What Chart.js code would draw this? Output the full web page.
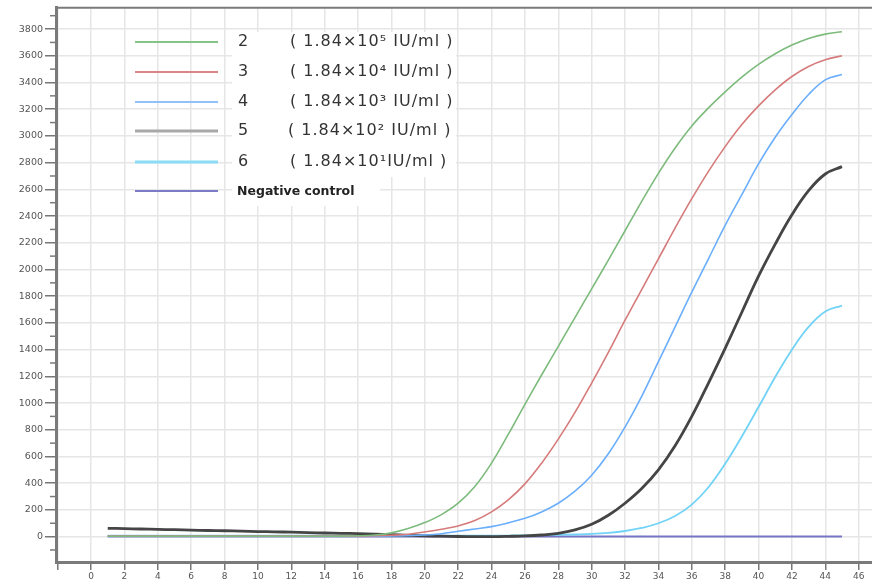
<!DOCTYPE html>
<html>
<head>
<meta charset="utf-8">
<script src="https://cdn.jsdelivr.net/npm/chart.js@4/dist/chart.umd.min.js"></script>
<style>
  html, body { margin: 0; padding: 0; background: #fff; overflow: hidden; }
  canvas { display: block; }
</style>
</head>
<body>
<canvas id="pcrChart" width="872" height="586"></canvas>
<script>
// amplification curves, cycle 1..45
const cycles = [1, 2, 3, 4, 5, 6, 7, 8, 9, 10, 11, 12, 13, 14, 15, 16, 17, 18, 19, 20, 21, 22, 23,
  24, 25, 26, 27, 28, 29, 30, 31, 32, 33, 34, 35, 36, 37, 38, 39, 40, 41, 42, 43, 44, 45];

const sample2 = [3, 3, 3, 3, 3, 3, 3, 3, 3, 3, 3, 3, 3, 3, 4, 6, 12, 28, 60, 105, 165, 250, 375,
  550, 765, 990, 1210, 1425, 1640, 1855, 2070, 2290, 2510, 2720, 2910, 3075, 3210, 3330, 3440, 3535, 3615, 3680, 3730, 3762, 3780];
const sample3 = [5, 5, 5, 5, 5, 5, 5, 5, 5, 5, 5, 5, 5, 5, 5, 5, 6, 10, 18, 35, 55, 80, 120,
  185, 275, 395, 550, 730, 930, 1150, 1380, 1620, 1850, 2080, 2310, 2530, 2735, 2920, 3085, 3225, 3345, 3445, 3520, 3570, 3600];
const sample4 = [5, 5, 5, 5, 5, 5, 5, 5, 5, 5, 5, 5, 5, 5, 5, 5, 5, 6, 8, 12, 22, 40, 57,
  75, 103, 137, 185, 250, 340, 460, 620, 820, 1050, 1310, 1570, 1830, 2080, 2330, 2560, 2790, 2990, 3160, 3310, 3420, 3460];
const sample5 = [62, 60, 57, 54, 52, 49, 46, 44, 41, 38, 36, 33, 30, 27, 25, 22, 18, 14, 10, 6, 3, 1, 0,
  0, 2, 5, 12, 25, 50, 92, 160, 250, 360, 500, 680, 900, 1150, 1410, 1680, 1950, 2190, 2410, 2590, 2715, 2770];
const sample6 = [8, 8, 8, 8, 8, 8, 8, 8, 8, 8, 8, 8, 8, 8, 8, 8, 8, 8, 8, 8, 8, 8, 8,
  8, 8, 9, 11, 13, 16, 20, 28, 42, 65, 100, 155, 240, 370, 545, 750, 970, 1195, 1400, 1570, 1685, 1730];
const negative = [0, 0, 0, 0, 0, 0, 0, 0, 0, 0, 0, 0, 0, 0, 0, 0, 0, 0, 0, 0, 0, 0, 0,
  0, 0, 0, 0, 0, 0, 0, 0, 0, 0, 0, 0, 0, 0, 0, 0, 0, 0, 0, 0, 0, 0];

const sampleIds = ['2', '3', '4', '5', '6', 'Negative control'];
const concentrations = ['( 1.84×10⁵ IU/ml )', '( 1.84×10⁴ IU/ml )', '( 1.84×10³ IU/ml )',
  '( 1.84×10² IU/ml )', '( 1.84×10¹IU/ml )', ''];

const allSeries = [sample2, sample3, sample4, sample5, sample6, negative];
const lineColors = ['#7dbb7d', '#d67b7b', '#6aaefc', '#454545', '#72d3f6', '#7575c4'];
const legendColors = ['#86c386', '#dc8585', '#8fc1fb', '#a8a8a8', '#8cdcf6', '#7b7bc6'];
const lineWidths = [1.6, 1.6, 1.6, 2.8, 1.8, 2];
const legendWidths = [2, 2, 2, 3, 3, 2];

const toPoints = arr => arr.map((v, i) => ({ x: cycles[i], y: v }));

// legend drawn inside the plot, over a white panel like the original
const insideLegend = {
  id: 'insideLegend',
  afterDatasetsDraw(chart) {
    const ctx = chart.ctx;
    ctx.save();
    ctx.fillStyle = '#fff';
    ctx.fillRect(232, 32, 224, 145);
    ctx.fillRect(232, 176, 148, 30);
    const rows = [42, 72, 102, 131, 162, 191];
    sampleIds.forEach((id, i) => {
      const y = rows[i];
      ctx.strokeStyle = legendColors[i];
      ctx.lineWidth = legendWidths[i];
      ctx.beginPath();
      ctx.moveTo(135, y);
      ctx.lineTo(218, y);
      ctx.stroke();
      ctx.fillStyle = '#333';
      ctx.textBaseline = 'middle';
      if (concentrations[i]) {
        ctx.font = '16px "DejaVu Sans"';
        ctx.letterSpacing = '0px';
        ctx.fillText(id, 238, y);
        ctx.letterSpacing = '1px';
        ctx.fillText(concentrations[i], i === 3 ? 288 : 290, y);
      } else {
        ctx.font = 'bold 12.5px "DejaVu Sans"';
        ctx.letterSpacing = '0px';
        ctx.fillStyle = '#222';
        ctx.fillText(id, 237, y + 1);
      }
    });
    ctx.restore();
  }
};

// frame top line and the short minor ticks on the y axis
const frameAndMinor = {
  id: 'frameAndMinor',
  afterDraw(chart) {
    const ctx = chart.ctx;
    const area = chart.chartArea;
    const yScale = chart.scales.y;
    ctx.save();
    ctx.strokeStyle = '#7a7a7a';
    ctx.lineWidth = 2;
    ctx.beginPath();
    ctx.moveTo(area.left, area.top);
    ctx.lineTo(area.right, area.top);
    ctx.stroke();
    ctx.lineWidth = 1.5;
    yScale.ticks.forEach(t => {
      if (t.value % 200 !== 0) {
        const py = yScale.getPixelForValue(t.value);
        ctx.beginPath();
        ctx.moveTo(area.left - 6, py);
        ctx.lineTo(area.left, py);
        ctx.stroke();
      }
    });
    ctx.restore();
  }
};

new Chart(document.getElementById('pcrChart'), {
  type: 'line',
  data: {
    datasets: allSeries.map((s, i) => ({
      label: sampleIds[i],
      data: toPoints(s),
      borderColor: lineColors[i],
      borderWidth: lineWidths[i],
      pointRadius: 0,
      tension: 0.4,
      fill: false
    }))
  },
  options: {
    responsive: false,
    animation: false,
    layout: { padding: { top: 7, right: 0, left: 0, bottom: 0 } },
    plugins: {
      legend: { display: false },
      tooltip: { enabled: false }
    },
    scales: {
      x: {
        type: 'linear',
        min: -2.1,
        max: 46.8,
        afterFit: scale => { scale.height = 24; },
        ticks: {
          stepSize: 2,
          includeBounds: false,
          autoSkip: false,
          maxRotation: 0,
          padding: 1,
          color: '#555',
          font: { size: 9, family: 'DejaVu Sans' },
          callback: v => (v === -2 ? '' : String(v))
        },
        grid: { color: '#e6e6e6', lineWidth: 1.5, tickLength: 8, tickColor: '#777' },
        border: { color: '#7a7a7a', width: 3 }
      },
      y: {
        min: -190,
        max: 3960,
        afterFit: scale => { scale.width = 56; },
        ticks: {
          stepSize: 100,
          includeBounds: false,
          autoSkip: false,
          padding: 2,
          color: '#555',
          font: { size: 9.5, family: 'DejaVu Sans' },
          callback: v => (v % 200 === 0 ? String(v) : '')
        },
        grid: {
          color: c => (c.tick && c.tick.value % 200 === 0 ? '#e6e6e6' : 'rgba(0,0,0,0)'),
          tickColor: c => (c.tick && c.tick.value % 200 === 0 ? '#777' : 'rgba(0,0,0,0)'),
          lineWidth: 1.5,
          tickLength: 11
        },
        border: { color: '#7a7a7a', width: 3 }
      }
    }
  },
  plugins: [insideLegend, frameAndMinor]
});
</script>
</body>
</html>
